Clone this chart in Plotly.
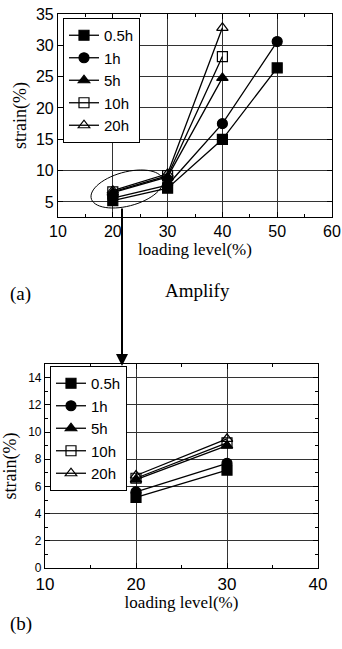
import numpy as np
import plotly.graph_objects as go

W, H = 342, 649

# ---- data ----
series_names = ["0.5h", "1h", "5h", "10h", "20h"]
symbols = ["square", "circle", "triangle-up", "square-open", "triangle-up-open"]

load_a = {
    "0.5h": [20, 30, 40, 50],
    "1h": [20, 30, 40, 50],
    "5h": [20, 30, 40],
    "10h": [20, 30, 40],
    "20h": [20, 30, 40],
}
strain_a = {
    "0.5h": [5.2, 7.2, 15.0, 26.4],
    "1h": [5.6, 7.7, 17.5, 30.6],
    "5h": [6.5, 9.0, 24.8],
    "10h": [6.6, 9.2, 28.2],
    "20h": [6.8, 9.5, 32.8],
}
load_b = [20, 30]
strain_b = {
    "0.5h": [5.2, 7.2],
    "1h": [5.6, 7.7],
    "5h": [6.5, 9.0],
    "10h": [6.6, 9.2],
    "20h": [6.8, 9.5],
}
ticks_xa = [10, 20, 30, 40, 50, 60]
ticks_ya = [5, 10, 15, 20, 25, 30, 35]
ticks_xb = [10, 20, 30, 40]
ticks_yb = [0, 2, 4, 6, 8, 10, 12, 14]


def px_x(p):
    return p / W


def px_y(p):
    return 1 - p / H


fig = go.Figure()

for name, sym in zip(series_names, symbols):
    fig.add_trace(go.Scatter(
        x=load_a[name], y=strain_a[name], mode="lines+markers", name=name,
        line=dict(color="black", width=1.3),
        marker=dict(symbol=sym, size=10, color="black", line=dict(color="black", width=1.2)),
        xaxis="x", yaxis="y", legend="legend", cliponaxis=False,
    ))
for name, sym in zip(series_names, symbols):
    fig.add_trace(go.Scatter(
        x=load_b, y=strain_b[name], mode="lines+markers", name=name,
        line=dict(color="black", width=1.3),
        marker=dict(symbol=sym, size=10, color="black", line=dict(color="black", width=1.2)),
        xaxis="x2", yaxis="y2", legend="legend2", cliponaxis=False,
    ))

axis_common = dict(
    showline=True, linecolor="black", linewidth=1.2, mirror="allticks",
    ticks="inside", ticklen=5, tickcolor="black", automargin=False,
    showgrid=True, gridcolor="#333333", gridwidth=1, zeroline=False,
    tickfont=dict(family="Liberation Sans, Arial", size=16, color="black"),
)
xtitle_font = dict(family="Liberation Serif, Times New Roman", size=17, color="black")
ytitle_font = dict(family="Liberation Serif, Times New Roman", size=18, color="black")
legend_font = dict(family="Liberation Sans, Arial", size=15, color="black")

fig.update_layout(
    width=W, height=H, margin=dict(l=0, r=0, t=0, b=0),
    paper_bgcolor="white", plot_bgcolor="white",
    xaxis=dict(axis_common, domain=[px_x(58), px_x(332)], range=[10, 60],
               tickvals=ticks_xa, ticklabelstandoff=0,
               minor=dict(ticks="inside", ticklen=3, dtick=5, tickcolor="black", showgrid=False),
               title=dict(text="loading level(%)", font=xtitle_font, standoff=0), anchor="y"),
    yaxis=dict(axis_common, domain=[px_y(217), px_y(14)], range=[2.6, 35], tickvals=ticks_ya,
               title=dict(text="strain(%)", font=ytitle_font, standoff=4), anchor="x"),
    xaxis2=dict(axis_common, domain=[px_x(45), px_x(318)], range=[10, 40],
                tickvals=ticks_xb, ticklabelstandoff=0,
                tickfont=dict(family="Liberation Sans, Arial", size=17, color="black"),
                minor=dict(ticks="inside", ticklen=3, dtick=5, tickcolor="black", showgrid=False),
                title=dict(text="loading level(%)", font=xtitle_font, standoff=0), anchor="y2"),
    yaxis2=dict(axis_common, domain=[px_y(568), px_y(364)], range=[0, 15],
                tickvals=ticks_yb,
                tickfont=dict(family="Liberation Sans, Arial", size=12, color="black"),
                minor=dict(ticks="inside", ticklen=3, dtick=1, tickcolor="black", showgrid=False),
                title=dict(text="strain(%)", font=ytitle_font, standoff=8), anchor="x2"),
    legend=dict(x=px_x(63), y=px_y(18), xanchor="left", yanchor="top",
                bgcolor="white", bordercolor="black", borderwidth=1,
                font=legend_font, tracegroupgap=0, itemwidth=30),
    legend2=dict(x=px_x(50), y=px_y(366), xanchor="left", yanchor="top",
                 bgcolor="white", bordercolor="black", borderwidth=1,
                 font=legend_font, tracegroupgap=0, itemwidth=30),
    showlegend=True,
)

# tilted ellipse highlighting the low loading-level region (drawn in pixel space)
cx, cy, ra, rb, ang = 127.0, 189.0, 37.0, 17.0, np.deg2rad(15)
t = np.linspace(0, 2 * np.pi, 60)
ex = cx + ra * np.cos(t) * np.cos(ang) + rb * np.sin(t) * np.sin(ang)
ey = cy - ra * np.cos(t) * np.sin(ang) + rb * np.sin(t) * np.cos(ang)
path = "M " + " L ".join(f"{px_x(a):.5f},{px_y(b):.5f}" for a, b in zip(ex, ey)) + " Z"
fig.add_shape(type="path", xref="paper", yref="paper", path=path,
              line=dict(color="black", width=1))

# arrow from ellipse to zoomed plot
fig.add_annotation(x=px_x(122), y=px_y(366), xref="paper", yref="paper",
                   ax=0, ay=-(366 - 207), axref="pixel", ayref="pixel",
                   showarrow=True, arrowhead=2, arrowsize=1.2, arrowwidth=2, arrowcolor="black", text="")

text_font = dict(family="Liberation Serif, Times New Roman", size=19, color="black")
fig.add_annotation(x=px_x(197), y=px_y(290), xref="paper", yref="paper", text="Amplify",
                   showarrow=False, font=text_font)
fig.add_annotation(x=px_x(8), y=px_y(294), xref="paper", yref="paper", text="(a)",
                   showarrow=False, font=text_font, xanchor="left")
fig.add_annotation(x=px_x(8), y=px_y(637), xref="paper", yref="paper", text="(b)",
                   showarrow=False, font=text_font, xanchor="left")

fig.write_html("out.html", config={"displayModeBar": False},
               post_script="document.body.style.margin='0';document.body.style.overflow='hidden';")
